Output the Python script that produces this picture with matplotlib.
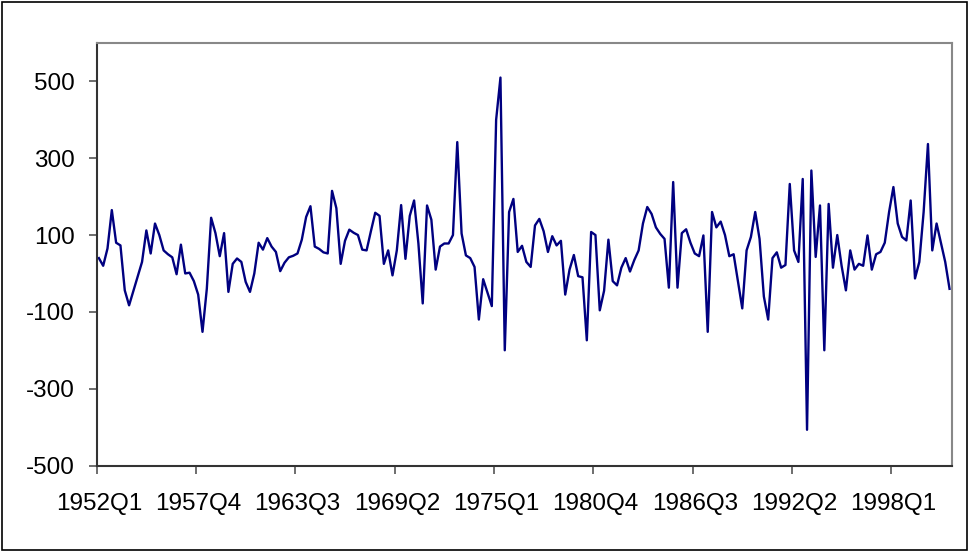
import numpy as np
import matplotlib
matplotlib.use("Agg")
import matplotlib.pyplot as plt
from matplotlib.patches import Rectangle

plt.rcParams['font.family'] = ['Liberation Sans', 'DejaVu Sans']

# quarterly series, 1952Q1 .. 2001Q2
values = [
    40, 20, 65, 165, 80, 73, -44, -83, -45, -8,
    30, 112, 52, 130, 100, 60, 50, 42, -2, 75,
    0, 2, -20, -55, -152, -40, 145, 105, 45, 105,
    -48, 25, 39, 30, -22, -48, 0, 80, 62, 92,
    70, 56, 6, 28, 42, 46, 52, 88, 147, 175,
    70, 64, 55, 52, 215, 170, 25, 85, 114, 106,
    100, 62, 60, 110, 158, 150, 25, 60, -5, 60,
    178, 38, 150, 190, 78, -78, 177, 140, 10, 70,
    78, 78, 100, 342, 104, 47, 40, 17, -120, -15,
    -50, -85, 400, 510, -200, 160, 194, 56, 72, 30,
    17, 125, 142, 110, 56, 97, 73, 85, -55, 10,
    48, -7, -10, -174, 108, 100, -96, -45, 88, -20,
    -31, 15, 40, 5, 35, 60, 130, 173, 155, 120,
    103, 90, -37, 238, -37, 105, 115, 80, 52, 45,
    99, -152, 160, 120, 135, 100, 45, 50, -20, -91,
    60, 95, 160, 90, -60, -120, 40, 55, 15, 22,
    233, 60, 30, 246, -407, 268, 43, 177, -200, 181,
    15, 100, 20, -44, 60, 10, 25, 20, 99, 10,
    50, 56, 80, 160, 225, 130, 95, 86, 190, -13,
    30, 160, 337, 60, 130, 80, 30, -40,
]
tick_labels = ["1952Q1", "1957Q4", "1963Q3", "1969Q2", "1975Q1",
               "1980Q4", "1986Q3", "1992Q2", "1998Q1"]
y_ticks = [-500, -300, -100, 100, 300, 500]

n = len(values)
x = np.arange(n) + 0.5

fig = plt.figure(figsize=(9.7, 5.53), dpi=100)
ax = fig.add_axes([96.7 / 970, 1 - 465.5 / 553, 855 / 970, 422.5 / 553])

ax.plot(x, values, color="#000080", linewidth=1.7)

ax.set_xlim(0, n)
ax.set_ylim(-500, 600)

tick_pos = np.arange(len(tick_labels)) * 23
ax.set_xticks(tick_pos)
ax.set_xticklabels([])
ax.set_xticks(tick_pos + 0.5, minor=True)
ax.set_xticklabels(tick_labels, minor=True)
ax.tick_params(axis="x", which="minor", length=0, pad=20, labelsize=17.5)
ax.tick_params(axis="x", which="major", length=6, width=1.2, color="#555555")

ax.set_yticks(y_ticks)
ax.set_yticklabels([str(v) for v in y_ticks])
ax.tick_params(axis="y", length=6, width=1.2, pad=10, labelsize=17.5, color="#555555")

for side in ["left", "bottom"]:
    ax.spines[side].set_color("#333333")
    ax.spines[side].set_linewidth(1.5)
for side in ["top", "right"]:
    ax.spines[side].set_color("#888888")
    ax.spines[side].set_linewidth(1.5)

# frame round the whole chart
fig.patches.append(Rectangle((2 / 970, 3 / 553), 965 / 970, 548 / 553,
                             transform=fig.transFigure, fill=False,
                             edgecolor="black", linewidth=1.2))

fig.savefig("out.png", dpi=100)
